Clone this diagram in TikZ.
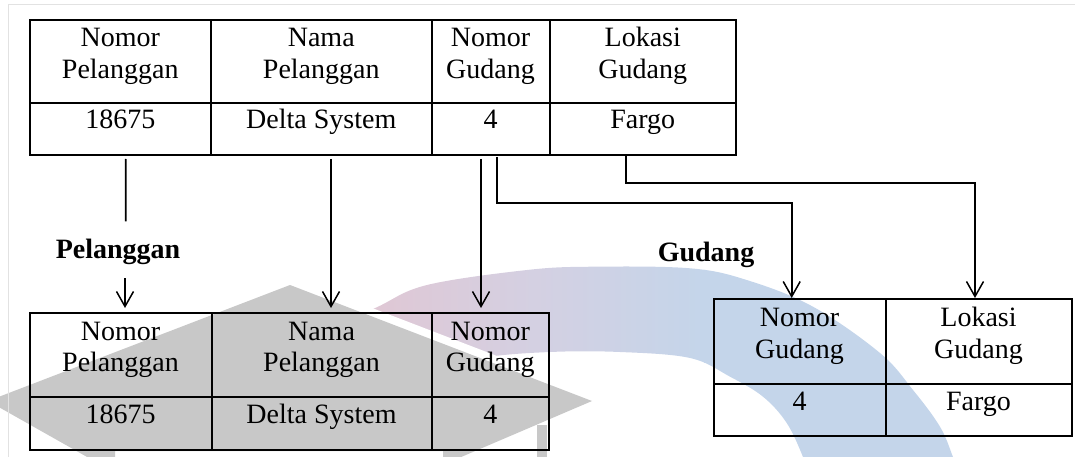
\documentclass[tikz,border=0pt]{standalone}
\usepackage{fontspec}
\setmainfont{Liberation Serif}
\usetikzlibrary{calc,arrows.meta}
\definecolor{wmgray}{RGB}{200,200,200}
\definecolor{wmpink}{RGB}{224,199,212}
\definecolor{wmmid}{RGB}{212,208,226}
\definecolor{wmblue}{RGB}{196,213,234}
\definecolor{framegray}{RGB}{226,226,226}
\newcommand\twolines[2]{\begin{tabular}[t]{@{}c@{}}#1\\#2\end{tabular}}

\begin{document}
\begin{tikzpicture}[x=1pt,y=-1pt,
  cell/.style={draw, line width=2pt, inner sep=0pt, outer sep=0pt, anchor=north west},
  txt/.style={anchor=base, inner sep=0pt, font=\fontsize{28}{31.6}\selectfont},
  ttl/.style={anchor=base, inner sep=0pt, font=\fontsize{28}{31.6}\selectfont\bfseries},
  link/.style={line width=1.8pt},
  arrowlink/.style={link, -{Straight Barb[length=15pt,width=17pt,line width=1.5pt]}},
]
\useasboundingbox (0,0) rectangle (1075,457);

% --- background emblem: curved band ---
\begin{scope}
  \clip plot[smooth, tension=0.6] coordinates {(330,330) (378,306.7) (427,285) (527,270) (593,266.7) (690,268.3) (746.7,280) (813,306.7) (880,353) (913,390) (940,426.7) (953,457) (958,470)}
     -- plot[smooth, tension=0.6] coordinates {(806,470) (803,457) (786.7,423) (763,396.7) (730,376.7) (690,358) (620,352) (550,352) (480,358) (400,375) (330,400)}
     -- cycle;
  \shade[left color=wmpink, right color=wmblue, middle color=wmmid] (365,250) rectangle (705,470);
  \fill[wmblue] (704,250) rectangle (975,470);
\end{scope}

% --- background emblem: cap board and tassel ---
\draw[white, line width=16pt] (290,285) -- (610,408);
\fill[wmgray] (290,285) -- (592,401) -- (460,457.5) -- (443,457.5) -- (443,451)
  -- (115,451) -- (115,457.5) -- (88,457.5) -- (-12,401) -- cycle;
\fill[wmgray] (537,425) rectangle (547,457.5);

% --- page frame ---
\draw[framegray, line width=1pt] (8.3,460) -- (8.3,4.3) -- (1080,4.3);

% --- source table ---
\node[cell, minimum width=181.5pt, minimum height=83.5pt] (th1) at (29.5,20) {};
\node[cell, minimum width=220.5pt, minimum height=83.5pt] (th2) at (211,20) {};
\node[cell, minimum width=118pt,   minimum height=83.5pt] (th3) at (431.5,20) {};
\node[cell, minimum width=186.5pt, minimum height=83.5pt] (th4) at (549.5,20) {};
\node[cell, minimum width=181.5pt, minimum height=52pt] (tv1) at (29.5,103.5) {};
\node[cell, minimum width=220.5pt, minimum height=52pt] (tv2) at (211,103.5) {};
\node[cell, minimum width=118pt,   minimum height=52pt] (tv3) at (431.5,103.5) {};
\node[cell, minimum width=186.5pt, minimum height=52pt] (tv4) at (549.5,103.5) {};

\node[txt] (th1t) at ($(th1.north)+(0,27)$) {\twolines{Nomor}{Pelanggan}};
\node[txt] (th2t) at ($(th2.north)+(0,27)$) {\twolines{Nama}{Pelanggan}};
\node[txt] (th3t) at ($(th3.north)+(0,27)$) {\twolines{Nomor}{Gudang}};
\node[txt] (th4t) at ($(th4.north)+(0,27)$) {\twolines{Lokasi}{Gudang}};
\node[txt] (tv1t) at ($(tv1.north)+(0,25)$) {18675};
\node[txt] (tv2t) at ($(tv2.north)+(0,25)$) {Delta System};
\node[txt] (tv3t) at ($(tv3.north)+(0,25)$) {4};
\node[txt] (tv4t) at ($(tv4.north)+(0,25)$) {Fargo};

% --- Pelanggan table ---
\node[cell, minimum width=182pt,   minimum height=84pt] (ph1) at (29.5,313) {};
\node[cell, minimum width=220pt,   minimum height=84pt] (ph2) at (211.5,313) {};
\node[cell, minimum width=117.5pt, minimum height=84pt] (ph3) at (431.5,313) {};
\node[cell, minimum width=182pt,   minimum height=53pt] (pv1) at (29.5,397) {};
\node[cell, minimum width=220pt,   minimum height=53pt] (pv2) at (211.5,397) {};
\node[cell, minimum width=117.5pt, minimum height=53pt] (pv3) at (431.5,397) {};

\node[txt] (ph1t) at ($(ph1.north)+(0,27)$) {\twolines{Nomor}{Pelanggan}};
\node[txt] (ph2t) at ($(ph2.north)+(0,27)$) {\twolines{Nama}{Pelanggan}};
\node[txt] (ph3t) at ($(ph3.north)+(0,27)$) {\twolines{Nomor}{Gudang}};
\node[txt] (pv1t) at ($(pv1.north)+(0,26)$) {18675};
\node[txt] (pv2t) at ($(pv2.north)+(0,26)$) {Delta System};
\node[txt] (pv3t) at ($(pv3.north)+(0,26)$) {4};

% --- Gudang table ---
\node[cell, minimum width=172pt, minimum height=85pt] (gh1) at (713.5,299.3) {};
\node[cell, minimum width=186pt, minimum height=85pt] (gh2) at (885.5,299.3) {};
\node[cell, minimum width=172pt, minimum height=51.4pt] (gv1) at (713.5,384.3) {};
\node[cell, minimum width=186pt, minimum height=51.4pt] (gv2) at (885.5,384.3) {};

\node[txt] (gh1t) at ($(gh1.north)+(0,27.4)$) {\twolines{Nomor}{Gudang}};
\node[txt] (gh2t) at ($(gh2.north)+(0,27.4)$) {\twolines{Lokasi}{Gudang}};
\node[txt] (gv1t) at ($(gv1.north)+(0,25.7)$) {4};
\node[txt] (gv2t) at ($(gv2.north)+(0,25.7)$) {Fargo};

% --- table titles ---
\node[ttl] (lblP) at (118,258) {Pelanggan};
\node[ttl] (lblG) at (706,261.7) {Gudang};

% --- decomposition links ---
\draw[link] ($(tv1.south)+(5.5,3.5)$) -- ($(lblP.north)+(7.7,-17)$);
\draw[arrowlink] ($(lblP.south)+(7,14)$) -- ($(ph1.north)+(4.5,-5)$);
\draw[arrowlink] ($(tv2.south)+(9.75,3.5)$) -- ($(ph2.north)+(9.5,-5)$);
\draw[arrowlink] ($(tv3.south)+(-9.5,3.5)$) -- ($(ph3.north)+(-9.25,-5)$);
\draw[arrowlink] ($(tv3.south)+(6.5,1.5)$) -- ++(0,45.7) -| ($(gh1.north)+(-7.8,-1.3)$);
\draw[arrowlink] ($(tv4.south)+(-16.75,0)$) -- ++(0,27.2) -| ($(gh2.north)+(-3.5,-1.3)$);
\end{tikzpicture}
\end{document}
